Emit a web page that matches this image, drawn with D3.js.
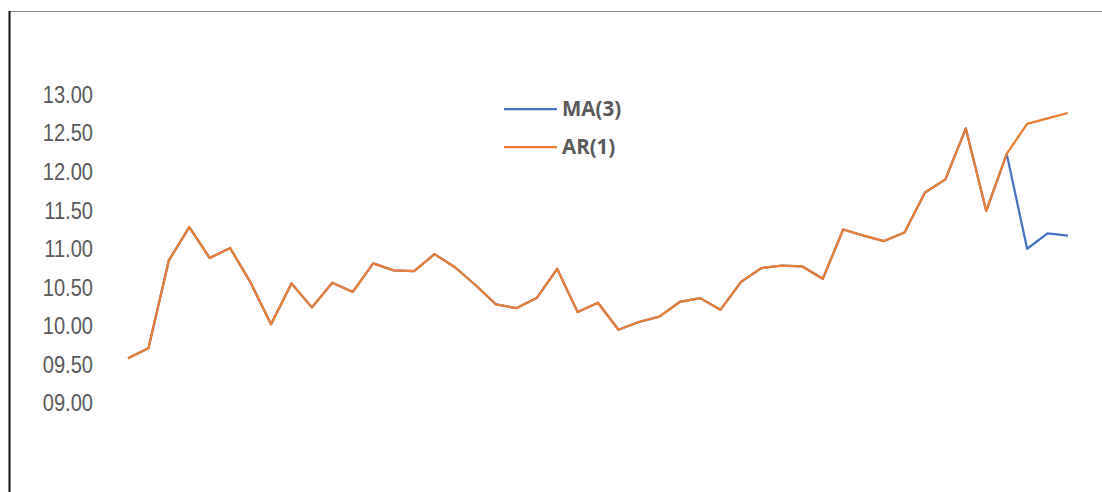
<!DOCTYPE html>
<html>
<head>
<meta charset="utf-8">
<script src="https://cdn.jsdelivr.net/npm/d3@7"></script>
<style>
  html, body { margin: 0; padding: 0; background: #fff; }
  svg { display: block; }
  .tick text { font-family: "Liberation Sans", Arial, sans-serif; font-size: 24.5px; fill: #595959; }
  .legend text { font-family: "Open Sans", sans-serif; font-weight: bold; font-size: 20.5px; fill: #595959; }
</style>
</head>
<body>
<div id="chart"></div>
<script>
// Forecast comparison: moving-average vs autoregressive model
const periods = d3.range(1, 48);

const maValues = [
  9.58, 9.71, 10.85, 11.28, 10.88, 11.01, 10.56, 10.02, 10.55, 10.24,
  10.56, 10.44, 10.81, 10.72, 10.71, 10.93, 10.76, 10.53, 10.28, 10.23,
  10.36, 10.74, 10.18, 10.30, 9.95, 10.05, 10.12, 10.31, 10.36, 10.21,
  10.57, 10.75, 10.78, 10.77, 10.61, 11.25, 11.17, 11.10, 11.21, 11.73,
  11.90, 12.56, 11.49, 12.23, 11.00, 11.20, 11.17
];

const arValues = [
  9.58, 9.71, 10.85, 11.28, 10.88, 11.01, 10.56, 10.02, 10.55, 10.24,
  10.56, 10.44, 10.81, 10.72, 10.71, 10.93, 10.76, 10.53, 10.28, 10.23,
  10.36, 10.74, 10.18, 10.30, 9.95, 10.05, 10.12, 10.31, 10.36, 10.21,
  10.57, 10.75, 10.78, 10.77, 10.61, 11.25, 11.17, 11.10, 11.21, 11.73,
  11.90, 12.56, 11.49, 12.23, 12.62, 12.69, 12.76
];

const yTicks = [9.0, 9.5, 10.0, 10.5, 11.0, 11.5, 12.0, 12.5, 13.0];

const seriesNames = ["MA(3)", "AR(1)"];
const seriesColors = ["#4472C4", "#ED7D31"];

const W = 1102, H = 492;

const svg = d3.select("#chart").append("svg")
  .attr("width", W).attr("height", H);

// frame: grey top rule and dark left rule
svg.append("line")
  .attr("x1", 9).attr("x2", 1102).attr("y1", 11.5).attr("y2", 11.5)
  .attr("stroke", "#8c8c8c").attr("stroke-width", 1);
svg.append("line")
  .attr("x1", 9.5).attr("x2", 9.5).attr("y1", 11).attr("y2", H)
  .attr("stroke", "#111").attr("stroke-width", 2);

const x = d3.scalePoint().domain(periods).range([128, 1068]);
const y = d3.scaleLinear().domain([9, 13]).range([403, 94.5]);

const yAxis = d3.axisLeft(y)
  .tickValues(yTicks)
  .tickSize(0)
  .tickPadding(0)
  .tickFormat(d3.format("05.2f"));

svg.append("g")
  .attr("transform", "translate(93,0)")
  .call(yAxis)
  .call(g => g.select(".domain").remove())
  // condensed numerals, right edge kept at the axis
  .call(g => g.selectAll(".tick text").attr("x", 0).attr("transform", "scale(0.82,1)"));

const line = d3.line()
  .x((d, i) => x(periods[i]))
  .y(d => y(d));

[maValues, arValues].forEach((vals, k) => {
  svg.append("path")
    .datum(vals)
    .attr("fill", "none")
    .attr("stroke", seriesColors[k])
    .attr("stroke-width", 2.25)
    .attr("stroke-linejoin", "round")
    .attr("d", line);
});

// legend
const legend = svg.append("g").attr("class", "legend");
const legendY = [109, 147];
seriesNames.forEach((name, k) => {
  legend.append("line")
    .attr("x1", 504).attr("x2", 557)
    .attr("y1", legendY[k]).attr("y2", legendY[k])
    .attr("stroke", seriesColors[k]).attr("stroke-width", 2.25);
  legend.append("text")
    .attr("x", 562).attr("y", legendY[k])
    .attr("dy", "0.35em")
    .text(name);
});
</script>
</body>
</html>
